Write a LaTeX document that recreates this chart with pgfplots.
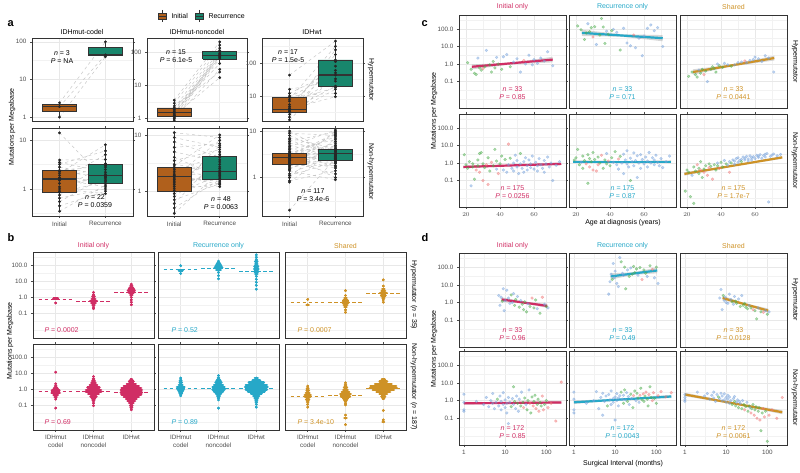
\documentclass[border=0pt]{standalone}
\usepackage{pgfplots}
\pgfplotsset{compat=1.18}
\usepackage{pgfplotstable}
\usepackage{fontspec}
\setmainfont{Liberation Sans}

\definecolor{cIo}{RGB}{208,45,100}
\definecolor{cRo}{RGB}{38,168,200}
\definecolor{cSh}{RGB}{206,146,38}
\definecolor{bxI}{RGB}{176,96,28}
\definecolor{bxR}{RGB}{24,134,108}
\definecolor{ptB}{RGB}{118,162,220}
\definecolor{ptG}{RGB}{76,172,76}
\definecolor{ptR}{RGB}{240,118,118}

\newcommand\fa{\fontsize{6.3}{7.2}\selectfont}
\newcommand\fb{\fontsize{7}{8}\selectfont}
\newcommand\fl{\fontsize{11}{12}\selectfont\bfseries}

% ---------- panel a: paired samples (x=1 initial, x=2 recurrence) ----------
\pgfplotstableread[row sep=\\]{x y\\
1 1.0\\2 40\\nan nan\\ 1 1.9\\2 45\\nan nan\\ 1 2.4\\2 100\\}\tA
\pgfplotstableread[row sep=\\]{x y\\
1 0.9\\2 78\\nan nan\\ 1 1.0\\2 30\\nan nan\\ 1 1.1\\2 90\\nan nan\\
1 1.2\\2 62\\nan nan\\ 1 1.25\\2 17\\nan nan\\ 1 1.3\\2 100\\nan nan\\
1 1.4\\2 72\\nan nan\\ 1 1.5\\2 85\\nan nan\\ 1 1.6\\2 45\\nan nan\\
1 1.7\\2 110\\nan nan\\ 1 1.9\\2 68\\nan nan\\ 1 2.1\\2 130\\nan nan\\
1 2.4\\2 25\\nan nan\\ 1 2.9\\2 160\\nan nan\\ 1 3.6\\2 200\\}\tB
\pgfplotstableread[row sep=\\]{x y\\
1 1.9\\2 43\\nan nan\\ 1 2.3\\2 123\\nan nan\\ 1 2.8\\2 16\\nan nan\\
1 3.3\\2 250\\nan nan\\ 1 3.5\\2 20\\nan nan\\ 1 3.8\\2 80\\nan nan\\
1 4.0\\2 9.5\\nan nan\\ 1 4.3\\2 180\\nan nan\\ 1 4.8\\2 33\\nan nan\\
1 5.5\\2 110\\nan nan\\ 1 7\\2 18\\nan nan\\ 1 8\\2 320\\nan nan\\
1 9.3\\2 50\\nan nan\\ 1 10\\2 12\\nan nan\\ 1 12\\2 60\\nan nan\\
1 16\\2 28\\nan nan\\ 1 43\\2 460\\}\tC
\pgfplotstableread[row sep=\\]{x y\\
1 0.35\\2 1.2\\nan nan\\ 1 0.45\\2 0.9\\nan nan\\ 1 0.55\\2 1.8\\nan nan\\
1 0.65\\2 1.0\\nan nan\\ 1 0.75\\2 2.5\\nan nan\\ 1 0.85\\2 1.4\\nan nan\\
1 0.9\\2 3.3\\nan nan\\ 1 1.0\\2 0.8\\nan nan\\ 1 1.1\\2 2.0\\nan nan\\
1 1.3\\2 1.6\\nan nan\\ 1 1.5\\2 5.0\\nan nan\\ 1 1.6\\2 1.1\\nan nan\\
1 1.7\\2 2.8\\nan nan\\ 1 1.9\\2 1.3\\nan nan\\ 1 2.1\\2 8.0\\nan nan\\
1 2.3\\2 1.7\\nan nan\\ 1 2.4\\2 3.0\\nan nan\\ 1 2.8\\2 1.9\\nan nan\\
1 3.2\\2 6.0\\nan nan\\ 1 3.5\\2 2.2\\nan nan\\ 1 3.9\\2 4.0\\nan nan\\
1 14\\2 1.5\\}\tD
\pgfplotstableread[row sep=\\]{x y\\
1 0.4\\2 2.2\\nan nan\\ 1 0.5\\2 1.6\\nan nan\\ 1 0.6\\2 4.2\\nan nan\\
1 0.7\\2 1.35\\nan nan\\ 1 0.8\\2 3.0\\nan nan\\ 1 0.9\\2 1.9\\nan nan\\
1 1.0\\2 6.5\\nan nan\\ 1 1.0\\2 1.4\\nan nan\\ 1 1.1\\2 2.5\\nan nan\\
1 1.2\\2 1.2\\nan nan\\ 1 1.3\\2 5.0\\nan nan\\ 1 1.4\\2 2.0\\nan nan\\
1 1.5\\2 1.7\\nan nan\\ 1 1.6\\2 3.6\\nan nan\\ 1 1.7\\2 1.5\\nan nan\\
1 1.8\\2 8.0\\nan nan\\ 1 1.9\\2 2.1\\nan nan\\ 1 2.0\\2 1.3\\nan nan\\
1 2.2\\2 4.5\\nan nan\\ 1 2.4\\2 2.7\\nan nan\\ 1 2.6\\2 1.6\\nan nan\\
1 2.8\\2 10\\nan nan\\ 1 3.0\\2 2.3\\nan nan\\ 1 3.5\\2 5.5\\nan nan\\
1 4.0\\2 1.8\\nan nan\\ 1 5.0\\2 3.3\\nan nan\\ 1 6.0\\2 7.0\\nan nan\\
1 7.5\\2 4.0\\nan nan\\ 1 9.0\\2 6.0\\nan nan\\ 1 11\\2 9.0\\}\tE
\pgfplotstableread[row sep=\\]{x y\\
1 0.2\\2 2.6\\nan nan\\ 1 0.8\\2 4.0\\nan nan\\ 1 0.85\\2 1.4\\nan nan\\
1 1.0\\2 7.0\\nan nan\\ 1 1.1\\2 2.2\\nan nan\\ 1 1.2\\2 3.2\\nan nan\\
1 1.4\\2 0.9\\nan nan\\ 1 1.5\\2 5.0\\nan nan\\ 1 1.6\\2 2.8\\nan nan\\
1 1.7\\2 10\\nan nan\\ 1 1.8\\2 1.8\\nan nan\\ 1 1.9\\2 3.6\\nan nan\\
1 2.0\\2 2.4\\nan nan\\ 1 2.1\\2 6.0\\nan nan\\ 1 2.2\\2 1.2\\nan nan\\
1 2.3\\2 4.5\\nan nan\\ 1 2.4\\2 2.0\\nan nan\\ 1 2.5\\2 8.5\\nan nan\\
1 2.6\\2 3.0\\nan nan\\ 1 2.6\\2 1.6\\nan nan\\ 1 2.7\\2 5.5\\nan nan\\
1 2.8\\2 2.5\\nan nan\\ 1 2.9\\2 9.0\\nan nan\\ 1 3.0\\2 1.0\\nan nan\\
1 3.1\\2 3.4\\nan nan\\ 1 3.2\\2 7.5\\nan nan\\ 1 3.3\\2 2.1\\nan nan\\
1 3.5\\2 4.8\\nan nan\\ 1 3.7\\2 1.7\\nan nan\\ 1 4.0\\2 6.5\\nan nan\\
1 4.3\\2 2.3\\nan nan\\ 1 4.6\\2 10.5\\nan nan\\ 1 5.0\\2 2.7\\nan nan\\
1 5.5\\2 3.8\\nan nan\\ 1 6.0\\2 9.5\\nan nan\\ 1 6.5\\2 2.6\\nan nan\\
1 7.0\\2 4.2\\nan nan\\ 1 8.0\\2 3.1\\nan nan\\ 1 9.0\\2 8.0\\nan nan\\
1 10\\2 2.9\\}\tF

% ---------- panel b: swarm rows (category, value, half width) ----------
\pgfplotstableread[row sep=\\]{c y w\\
1 0.85 0.06\\1 0.45 0\\
2 2.0 0\\2 1.5 0\\2 1.1 0.03\\2 0.8 0.05\\2 0.6 0.09\\2 0.45 0.06\\2 0.33 0.03\\2 0.25 0\\2 0.2 0\\
3 6.5 0\\3 5 0.03\\3 3.6 0.06\\3 2.6 0.09\\3 1.9 0.06\\3 1.4 0.03\\3 1.0 0\\3 0.7 0\\3 0.5 0\\3 0.35 0\\}\bHi
\pgfplotstableread[row sep=\\]{c y w\\
1 90 0\\1 45 0.05\\1 30 0\\
2 170 0\\2 125 0.04\\2 95 0.07\\2 70 0.1\\2 50 0.06\\2 35 0\\2 22 0\\2 14 0\\
3 420 0\\3 300 0\\3 220 0\\3 160 0.03\\3 115 0.03\\3 80 0.05\\3 57 0.06\\3 40 0.05\\3 28 0.03\\
3 20 0\\3 13 0\\3 8.5 0\\3 5.5 0\\3 3.2 0\\}\bHr
\pgfplotstableread[row sep=\\]{c y w\\
1 0.75 0\\1 0.35 0.03\\
2 2.6 0\\2 1.3 0\\2 0.9 0.03\\2 0.65 0.06\\2 0.48 0.08\\2 0.35 0.05\\2 0.25 0.03\\2 0.17 0\\2 0.12 0\\
3 12 0\\3 5 0\\3 3.3 0.03\\3 2.4 0.05\\3 1.8 0.09\\3 1.3 0.06\\3 0.95 0.03\\3 0.7 0\\3 0.5 0\\}\bHs
\pgfplotstableread[row sep=\\]{c y w\\
1 11.5 0\\1 2.2 0\\1 1.6 0.02\\1 1.15 0.05\\1 0.85 0.1\\1 0.62 0.11\\1 0.45 0.06\\1 0.33 0.03\\1 0.25 0\\1 0.07 0\\
2 6.2 0\\2 4.5 0.02\\2 3.3 0.04\\2 2.4 0.06\\2 1.8 0.1\\2 1.3 0.16\\2 0.95 0.2\\2 0.7 0.2\\2 0.5 0.14\\
2 0.37 0.08\\2 0.27 0.04\\2 0.2 0.02\\2 0.14 0\\2 0.1 0\\
3 4.0 0.02\\3 3.0 0.06\\3 2.2 0.12\\3 1.6 0.2\\3 1.2 0.26\\3 0.88 0.28\\3 0.65 0.28\\3 0.48 0.26\\
3 0.35 0.2\\3 0.26 0.14\\3 0.19 0.1\\3 0.14 0.06\\3 0.1 0.03\\3 0.075 0.02\\3 0.055 0\\}\bNi
\pgfplotstableread[row sep=\\]{c y w\\
1 5 0\\1 3.6 0.02\\1 2.6 0.03\\1 1.9 0.05\\1 1.4 0.1\\1 1.0 0.08\\1 0.75 0.05\\1 0.55 0.03\\1 0.4 0\\
2 7 0\\2 5 0.02\\2 3.6 0.05\\2 2.6 0.08\\2 1.9 0.12\\2 1.4 0.16\\2 1.0 0.16\\2 0.75 0.12\\2 0.55 0.07\\
2 0.4 0.04\\2 0.3 0.02\\2 0.22 0\\2 0.07 0\\
3 5 0.04\\3 3.6 0.1\\3 2.6 0.2\\3 1.9 0.28\\3 1.4 0.3\\3 1.0 0.28\\3 0.75 0.22\\3 0.55 0.14\\
3 0.4 0.08\\3 0.3 0.05\\3 0.22 0.03\\3 0.16 0.02\\3 0.12 0\\3 0.08 0\\}\bNr
\pgfplotstableread[row sep=\\]{c y w\\
1 1.6 0\\1 1.15 0.02\\1 0.85 0.03\\1 0.62 0.05\\1 0.45 0.08\\1 0.33 0.07\\1 0.24 0.04\\1 0.17 0.02\\1 0.12 0\\1 0.08 0\\
2 2.5 0\\2 1.8 0.02\\2 1.3 0.04\\2 0.95 0.06\\2 0.7 0.1\\2 0.5 0.14\\2 0.37 0.12\\2 0.27 0.06\\2 0.2 0.03\\
2 0.14 0\\2 0.11 0\\2 0.026 0\\2 0.017 0.03\\2 0.0066 0\\
3 4 0.04\\3 3 0.1\\3 2.2 0.22\\3 1.6 0.34\\3 1.2 0.36\\3 0.9 0.28\\3 0.66 0.18\\3 0.5 0.1\\
3 0.37 0.05\\3 0.27 0.02\\3 0.05 0\\3 0.013 0\\3 0.01 0.02\\}\bNs

% ---------- panel c: age at diagnosis; columns x io ro sh; b=IDHwt, g=IDHmut-noncodel, r=IDHmut-codel ----------
\pgfplotstableread[row sep=\\]{x io ro sh\\
27 2.2 200 0.45\\32 6 13 0.1\\38 2.4 75 1.0\\42 2.6 95 1.1\\44 3.5 65 0.9\\48 1.3 110 0.9\\
50 2.0 16 1.2\\52 0.35 11 1.3\\55 1.0 8.5 1.2\\57 3.2 30 1.6\\59 0.9 3 1.8\\60 1.8 40 2.5\\
62 1.1 110 2.0\\64 2.2 170 1.4\\66 1.5 80 3.0\\68 5.0 120 2.2\\71 0.8 10 0.35\\}\cHb
\pgfplotstableread[row sep=\\]{x io ro sh\\
21 1.2 150 0.2\\23 0.5 90 0.35\\25 0.3 25 0.25\\26 0.25 60 0.18\\28 0.6 70 0.3\\29 0.45 120 0.5\\
31 0.7 135 0.4\\34 0.9 45 0.5\\35 0.35 400 0.7\\36 1.4 130 0.55\\37 0.6 15 0.35\\39 1.0 50 0.8\\
41 0.5 80 0.65\\46 0.7 6.3 0.75\\}\cHg
\pgfplotstableread[row sep=\\]{x io ro sh\\
30 0.55 35 0.25\\54 1.6 45 1.5\\}\cHr
\pgfplotstableread[row sep=\\]{x io ro sh\\
23 0.05 1.1 0.2\\38 0.45 3.5 1.0\\42 0.4 1.1 1.4\\44 0.3 0.8 0.75\\45 0.8 0.45 1.2\\47 0.5 1.0 1.5\\
48 1.0 0.25 0.85\\48 0.35 3.2 1.3\\49 2.8 1.5 1.8\\50 0.6 0.9 1.1\\50 1.4 5.0 2.0\\51 0.25 0.6 1.4\\
52 0.9 1.9 1.6\\53 0.5 1.2 2.2\\54 1.2 3.8 1.5\\54 0.3 0.7 1.9\\55 2.0 1.4 2.4\\56 0.7 0.15 1.3\\
56 0.4 2.6 1.7\\57 1.5 1.0 2.6\\58 0.9 0.5 2.0\\58 0.55 3.0 1.5\\59 2.5 1.6 2.3\\60 0.45 0.9 1.8\\
61 1.1 2.2 2.8\\62 0.7 1.3 2.1\\62 0.35 0.6 2.5\\63 1.8 4.0 3.0\\64 0.8 1.0 1.9\\65 0.5 2.0 2.7\\
66 1.4 0.8 3.2\\66 0.3 1.5 2.2\\67 0.9 2.8 3.5\\68 2.2 1.1 0.006\\69 0.6 0.7 2.4\\70 1.0 1.8 2.9\\
71 0.1 0.55 3.3\\73 0.75 1.2 2.6\\75 1.2 2.5 3.1\\}\cNb
\pgfplotstableread[row sep=\\]{x io ro sh\\
19 3.0 1.5 0.025\\20 0.8 2.0 0.4\\21 0.5 6.0 0.3\\22 1.2 0.8 0.012\\24 0.9 0.5 0.005\\24 0.6 2.5 0.6\\
25 0.12 1.4 0.35\\27 1.5 0.07 0.25\\27 0.7 3.0 0.5\\28 3.5 1.8 1.2\\29 4.0 1.2 0.15\\30 0.9 4.0 0.45\\
31 0.55 1.6 0.7\\33 2.0 2.2 0.9\\34 0.35 1.0 0.65\\36 0.7 0.5 0.8\\37 6.0 1.5 0.4\\38 1.3 0.9 0.7\\
40 0.9 0.7 1.1\\41 2.5 2.0 0.6\\43 1.6 4.5 0.9\\46 1.9 2.4 1.0\\52 3.5 0.1 1.2\\}\cNg
\pgfplotstableread[row sep=\\]{x io ro sh\\
26 0.4 0.9 0.8\\28 0.3 0.6 0.4\\30 0.1 0.4 0.3\\32 0.8 0.35 0.2\\33 0.06 0.8 0.55\\35 1.1 2.8 0.12\\
39 0.25 1.3 0.5\\45 12 1.7 0.3\\}\cNr

% ---------- panel d: surgical interval (months); same columns ----------
\pgfplotstableread[row sep=\\]{x io ro sh\\
7 2.5 3.0 1.8\\7.5 0.7 15 5.5\\8 2.0 40 0.4\\9 6.0 160 1.3\\9.5 0.35 25 2.0\\10 1.3 60 1.0\\
11 5.0 12 0.9\\12 1.8 8 3.0\\13 0.9 350 1.5\\15 1.0 45 0.8\\16 3.2 35 2.2\\20 2.2 70 1.6\\
24 1.3 90 2.5\\36 0.85 35 0.7\\60 0.45 30 0.5\\90 0.8 25 0.35\\110 0.5 12 0.3\\}\dHb
\pgfplotstableread[row sep=\\]{x io ro sh\\
8.5 1.2 20 2.5\\14 2.7 200 1.1\\17 0.7 100 1.2\\18 1.5 6 0.9\\22 0.55 30 0.6\\26 0.8 40 0.7\\
28 0.4 110 0.9\\30 1.1 50 0.55\\33 0.3 80 0.45\\40 0.6 95 0.5\\50 0.5 70 0.35\\55 1.4 45 0.12\\
70 0.25 120 0.3\\100 0.6 100 0.22\\}\dHg
\pgfplotstableread[row sep=\\]{x io ro sh\\
45 1.8 20 0.4\\80 2.0 75 0.28\\}\dHr
\pgfplotstableread[row sep=\\]{x io ro sh\\
1 2.3 3.0 2.2\\1 0.25 0.3 0.9\\1 0.3 1.2 1.5\\1 0.8 0.2 1.1\\2 0.9 0.7 3.0\\3 0.6 1.0 1.8\\
3.5 1.5 3.2 2.5\\4 0.45 0.35 1.2\\4.5 1.0 1.5 2.0\\5 0.7 0.15 1.4\\5 2.5 2.6 3.0\\5.5 0.35 0.9 0.9\\
6 0.8 1.8 2.2\\7 0.5 2.2 1.3\\7.5 1.8 1.1 2.6\\8 0.3 0.6 1.0\\8 0.9 3.5 1.8\\9 0.6 1.3 1.1\\
9 2.8 0.8 2.4\\10 0.4 1.6 0.8\\10 1.1 0.08 1.5\\11 0.7 2.5 1.2\\11 0.2 1.0 2.0\\12 0.05 1.4 0.7\\
12 1.5 0.5 1.6\\13 0.8 1.9 1.0\\15 1.3 1.2 1.3\\16 0.6 2.0 1.7\\18 0.35 1.1 0.8\\19 1.8 2.8 1.1\\
21 0.25 1.7 0.9\\22 1.2 0.6 0.7\\25 3.0 1.3 1.0\\32 0.6 1.0 0.8\\38 4.0 0.8 0.4\\}\dNb
\pgfplotstableread[row sep=\\]{x io ro sh\\
6.5 1.2 0.5 1.6\\14 0.45 3.0 0.6\\16 6.0 0.7 0.9\\17 0.9 4.0 0.5\\20 0.7 0.9 0.4\\24 0.5 2.3 0.35\\
27 0.8 0.4 0.6\\30 1.4 3.5 0.45\\34 0.3 2.6 0.25\\36 1.0 1.4 0.5\\42 0.2 5.0 0.35\\45 1.6 1.1 0.6\\
50 0.9 0.9 0.3\\53 2.0 1.8 0.45\\60 0.6 1.2 0.25\\63 1.2 0.5 0.4\\70 0.8 6.0 0.02\\75 0.5 1.5 0.2\\
90 0.6 1.3 0.25\\100 1.0 0.7 0.005\\}\dNg
\pgfplotstableread[row sep=\\]{x io ro sh\\
28 0.4 1.9 0.3\\40 0.7 2.0 0.2\\48 0.5 2.4 0.15\\56 0.35 3.0 0.1\\66 0.25 2.2 0.08\\80 1.8 1.0 0.35\\
85 0.3 2.8 0.12\\110 0.4 1.9 0.15\\130 0.7 3.2 0.3\\170 0.07 1.6 0.1\\230 11 2.8 1.5\\}\dNr

\pgfplotsset{
  gg/.style={scale only axis, anchor=north west, clip=true,
    axis line style={draw=black!80, line width=0.7pt},
    tick align=outside, major tick length=2pt, minor tick length=0pt,
    tick style={draw=black!70, line width=0.5pt},
    grid=both, major grid style={draw=black!9, line width=0.55pt},
    minor grid style={draw=black!5, line width=0.35pt},
    ticklabel style={font=\fa, text=black!70}},
  noxt/.style={xticklabels={}, xmajorticks=false},
  noyt/.style={yticklabels={}, ymajorticks=false},
  pa/.style={xmin=0.4, xmax=2.6, xtick={1,2}, xticklabels={Initial,Recurrence}},
  lgy/.style={ymin=0.0031, ymax=630, ytick={0.1,1,10,100},
    yticklabels={0.1,1.0,10.0,100.0}, minor ytick={0.01,0.0316,0.316,3.16,31.6,316}},
  bx/.style={width=121pt, height=86pt, xmin=0.4, xmax=3.6, xtick={1,2,3},
    xticklabels={{IDHmut\\codel},{IDHmut\\noncodel},IDHwt}, xticklabel style={align=center}},
  cx/.style={width=107pt, height=93pt, xmin=15.9, xmax=78.8, xtick={20,40,60}, minor xtick={30,50,70}},
  dx/.style={width=107pt, height=94pt, xmin=0.76, xmax=300, xtick={1,10,100},
    xticklabels={1,10,100}, minor xtick={3.16,31.6}},
  sw/.style={only marks, mark=*, mark size=1.2pt, color=#1, mark options={draw=none, fill=#1},
    error bars/x dir=both, error bars/x explicit, error bars/error mark=none,
    error bars/error bar style={line width=2.4pt, line cap=round, color=#1}},
  md/.style={color=#1, dash pattern=on 3.5pt off 2.5pt, line width=0.8pt},
  pts/.style={only marks, mark=*, mark size=1.4pt, color=#1,
    mark options={draw=#1, fill=#1, opacity=0.45}},
  band/.style={fill=black!35, fill opacity=0.45, draw=none},
  rl/.style={color=#1, line width=2.2pt},
}

\newcommand\aLn[1]{\addplot[black!22, dashed, line width=0.5pt, unbounded coords=jump] table {#1};}
\newcommand\aPt[1]{\addplot[only marks, mark=*, mark size=1.2pt, black!85] table {#1};}
% box: left, right, centre, fill, lower whisker, lower quartile, median, upper quartile, upper whisker
\newcommand\aBx[9]{%
  \addplot[black!80, line width=0.6pt] coordinates {(#3,#5) (#3,#6)};
  \addplot[black!80, line width=0.6pt] coordinates {(#3,#8) (#3,#9)};
  \addplot[draw=black!80, fill=#4, line width=0.6pt] coordinates {(#1,#6) (#2,#6) (#2,#8) (#1,#8) (#1,#6)};
  \addplot[black!80, line width=1.2pt] coordinates {(#1,#7) (#2,#7)};}
% points coloured by subtype: blue, green, red tables, y column
\newcommand\scat[4]{%
  \addplot[pts=ptB] table[x=x, y=#4] {#1};
  \addplot[pts=ptG] table[x=x, y=#4] {#2};
  \addplot[pts=ptR] table[x=x, y=#4] {#3};}

\begin{document}
\begin{tikzpicture}
\path[use as bounding box] (0pt,0pt) rectangle (800pt,-473pt);

% ================= panel a =================
\node[font=\fl, anchor=base west] at (4pt,-27pt) {a};
\draw[black!80, line width=0.5pt] (162pt,-10pt) -- (162pt,-22pt);
\filldraw[fill=bxI, draw=black!80, line width=0.5pt] (158pt,-13pt) rectangle (166pt,-19pt);
\draw[black!80, line width=0.9pt] (158pt,-16pt) -- (166pt,-16pt);
\node[font=\fb, anchor=west] at (168pt,-16pt) {Initial};
\draw[black!80, line width=0.5pt] (199pt,-10pt) -- (199pt,-22pt);
\filldraw[fill=bxR, draw=black!80, line width=0.5pt] (195pt,-13pt) rectangle (203pt,-19pt);
\draw[black!80, line width=0.9pt] (195pt,-16pt) -- (203pt,-16pt);
\node[font=\fb, anchor=west] at (205pt,-16pt) {Recurrence};

\node[font=\fb] at (82pt,-32pt) {IDHmut-codel};
\node[font=\fb] at (197pt,-32pt) {IDHmut-noncodel};
\node[font=\fb] at (312pt,-32pt) {IDHwt};
\node[font=\fb, rotate=-90] at (371pt,-80pt) {Hypermutator};
\node[font=\fb, rotate=-90] at (371pt,-172pt) {Non-hypermutator};
\node[font=\fb, rotate=90] at (12pt,-127pt) {Mutations per Megabase};

\begin{axis}[ymode=log, gg, pa, noxt, at={(32pt,-38pt)}, width=101pt, height=83pt,
  ymin=0.79, ymax=126, ytick={1,10,100}, yticklabels={1,10,100}, minor ytick={0.316,3.16,31.6}]
\aLn\tA
\aBx{0.625}{1.375}{1}{bxI}{1.0}{1.45}{1.9}{2.15}{2.4}
\aBx{1.625}{2.375}{2}{bxR}{40}{42.5}{45}{72.5}{100}
\aPt\tA
\end{axis}
\begin{axis}[ymode=log, gg, pa, noxt, at={(147pt,-38pt)}, width=100pt, height=83pt,
  ymin=0.85, ymax=262, ytick={1,10,100}, yticklabels={1,10,100}, minor ytick={0.316,3.16,31.6}]
\aLn\tB
\aBx{0.625}{1.375}{1}{bxI}{0.9}{1.2}{1.5}{2.1}{3.6}
\aBx{1.625}{2.375}{2}{bxR}{45}{62}{80}{105}{200}
\aPt\tB
\end{axis}
\begin{axis}[ymode=log, gg, pa, noxt, at={(262pt,-38pt)}, width=101pt, height=83pt,
  ymin=1.75, ymax=570, ytick={10,100}, yticklabels={10,100}, minor ytick={3.16,31.6,316}]
\aLn\tC
\aBx{0.625}{1.375}{1}{bxI}{1.9}{3.3}{4.0}{9.3}{16}
\aBx{1.625}{2.375}{2}{bxR}{9.5}{20}{43}{123}{460}
\aPt\tC
\end{axis}
\begin{axis}[ymode=log, gg, pa, at={(32pt,-128pt)}, width=101pt, height=88pt,
  ymin=0.28, ymax=17.6, ytick={1,10}, yticklabels={1,10}, minor ytick={0.316,3.16}]
\aLn\tD
\aBx{0.625}{1.375}{1}{bxI}{0.35}{0.87}{1.6}{2.35}{3.9}
\aBx{1.625}{2.375}{2}{bxR}{0.8}{1.3}{1.9}{3.2}{8}
\aPt\tD
\end{axis}
\begin{axis}[ymode=log, gg, pa, at={(147pt,-128pt)}, width=100pt, height=88pt,
  ymin=0.36, ymax=13.3, ytick={1,10}, yticklabels={1,10}, minor ytick={0.316,3.16}]
\aLn\tE
\aBx{0.625}{1.375}{1}{bxI}{0.4}{1.0}{1.8}{2.6}{11}
\aBx{1.625}{2.375}{2}{bxR}{1.2}{1.6}{2.2}{4.2}{10}
\aPt\tE
\end{axis}
\begin{axis}[ymode=log, gg, pa, at={(262pt,-128pt)}, width=101pt, height=88pt,
  ymin=0.15, ymax=11.6, ytick={1,10}, yticklabels={1,10}, minor ytick={0.316,3.16}]
\aLn\tF
\aBx{0.625}{1.375}{1}{bxI}{0.8}{1.9}{2.7}{3.3}{10}
\aBx{1.625}{2.375}{2}{bxR}{0.9}{2.3}{3.3}{4.1}{10.5}
\aPt\tF
\end{axis}

\node[font=\fb, align=center] at (62pt,-57pt) {\textit{n} = 3\\\textit{P} = NA};
\node[font=\fb, align=center] at (176pt,-56pt) {\textit{n} = 15\\\textit{P} = 6.1e-5};
\node[font=\fb, align=center] at (288pt,-56pt) {\textit{n} = 17\\\textit{P} = 1.5e-5};
\node[font=\fb, align=center] at (95pt,-201pt) {\textit{n} = 22\\\textit{P} = 0.0359};
\node[font=\fb, align=center] at (221pt,-203pt) {\textit{n} = 48\\\textit{P} = 0.0063};
\node[font=\fb, align=center] at (313pt,-195pt) {\textit{n} = 117\\\textit{P} = 3.4e-6};

% ================= panel b =================
\node[font=\fl, anchor=base west] at (4pt,-241pt) {b};
\node[font=\fb, text=cIo] at (93.5pt,-246pt) {Initial only};
\node[font=\fb, text=cRo] at (218.5pt,-246pt) {Recurrence only};
\node[font=\fb, text=cSh] at (345.5pt,-246pt) {Shared};
\node[font=\fb, rotate=-90] at (414pt,-295pt) {Hypermutator (\textit{n} = 35)};
\node[font=\fb, rotate=-90] at (414pt,-387pt) {Non-hypermutator (\textit{n} = 187)};
\node[font=\fb, rotate=90] at (10pt,-341pt) {Mutations per Megabase};

\begin{axis}[ymode=log, gg, bx, lgy, noxt, at={(33pt,-252pt)}]
\addplot[sw=cIo] table[x=c, y=y, x error=w] {\bHi};
\addplot[md=cIo] coordinates {(0.55,0.7) (1.45,0.7)};
\addplot[md=cIo] coordinates {(1.55,0.6) (2.45,0.6)};
\addplot[md=cIo] coordinates {(2.55,1.9) (3.45,1.9)};
\end{axis}
\begin{axis}[ymode=log, gg, bx, lgy, noxt, noyt, at={(158pt,-252pt)}]
\addplot[sw=cRo] table[x=c, y=y, x error=w] {\bHr};
\addplot[md=cRo] coordinates {(0.55,50) (1.45,50)};
\addplot[md=cRo] coordinates {(1.55,60) (2.45,60)};
\addplot[md=cRo] coordinates {(2.55,38) (3.45,38)};
\end{axis}
\begin{axis}[ymode=log, gg, bx, lgy, noxt, noyt, at={(285pt,-252pt)}]
\addplot[sw=cSh] table[x=c, y=y, x error=w] {\bHs};
\addplot[md=cSh] coordinates {(0.55,0.49) (1.45,0.49)};
\addplot[md=cSh] coordinates {(1.55,0.5) (2.45,0.5)};
\addplot[md=cSh] coordinates {(2.55,1.75) (3.45,1.75)};
\end{axis}
\begin{axis}[ymode=log, gg, bx, lgy, at={(33pt,-344pt)}]
\addplot[sw=cIo] table[x=c, y=y, x error=w] {\bNi};
\addplot[md=cIo] coordinates {(0.55,0.72) (1.45,0.72)};
\addplot[md=cIo] coordinates {(1.55,0.75) (2.45,0.75)};
\addplot[md=cIo] coordinates {(2.55,0.65) (3.45,0.65)};
\end{axis}
\begin{axis}[ymode=log, gg, bx, lgy, noyt, at={(158pt,-344pt)}]
\addplot[sw=cRo] table[x=c, y=y, x error=w] {\bNr};
\addplot[md=cRo] coordinates {(0.55,1.2) (1.45,1.2)};
\addplot[md=cRo] coordinates {(1.55,1.2) (2.45,1.2)};
\addplot[md=cRo] coordinates {(2.55,1.2) (3.45,1.2)};
\end{axis}
\begin{axis}[ymode=log, gg, bx, lgy, noyt, at={(285pt,-344pt)}]
\addplot[sw=cSh] table[x=c, y=y, x error=w] {\bNs};
\addplot[md=cSh] coordinates {(0.55,0.35) (1.45,0.35)};
\addplot[md=cSh] coordinates {(1.55,0.42) (2.45,0.42)};
\addplot[md=cSh] coordinates {(2.55,1.1) (3.45,1.1)};
\end{axis}

\node[font=\fb, text=cIo, anchor=west] at (41pt,-330pt) {\textit{P} = 0.0002};
\node[font=\fb, text=cRo, anchor=west] at (168pt,-330pt) {\textit{P} = 0.52};
\node[font=\fb, text=cSh, anchor=west] at (294pt,-330pt) {\textit{P} = 0.0007};
\node[font=\fb, text=cIo, anchor=west] at (41pt,-422pt) {\textit{P} = 0.69};
\node[font=\fb, text=cRo, anchor=west] at (168pt,-422pt) {\textit{P} = 0.89};
\node[font=\fb, text=cSh, anchor=west] at (294pt,-422pt) {\textit{P} = 3.4e-10};

% ================= panel c =================
\node[font=\fl, anchor=base west] at (418pt,-27pt) {c};
\node[font=\fb, text=cIo] at (512.5pt,-7pt) {Initial only};
\node[font=\fb, text=cRo] at (622.5pt,-7pt) {Recurrence only};
\node[font=\fb, text=cSh] at (733.5pt,-7pt) {Shared};
\node[font=\fb, rotate=-90] at (795pt,-61.5pt) {Hypermutator};
\node[font=\fb, rotate=-90] at (795pt,-160.5pt) {Non-hypermutator};
\node[font=\fb, rotate=90] at (434pt,-111pt) {Mutations per Megabase};
\node[font=\fb] at (623pt,-223pt) {Age at diagnosis (years)};

\begin{axis}[ymode=log, gg, cx, lgy, noxt, at={(459pt,-15pt)}]
\scat\cHb\cHg\cHr{io}
\addplot[band] coordinates {(23.5,0.95) (47,1.2) (71,2.6) (71,1.25) (47,0.95) (23.5,0.5)};
\addplot[rl=cIo] coordinates {(23.5,0.7) (71,1.8)};
\end{axis}
\begin{axis}[ymode=log, gg, cx, lgy, noxt, noyt, at={(569pt,-15pt)}]
\scat\cHb\cHg\cHr{ro}
\addplot[band] coordinates {(23.5,90) (47,50) (71,45) (71,20) (47,36) (23.5,40)};
\addplot[rl=cRo] coordinates {(23.5,60) (71,30)};
\end{axis}
\begin{axis}[ymode=log, gg, cx, lgy, noxt, noyt, at={(680pt,-15pt)}]
\scat\cHb\cHg\cHr{sh}
\addplot[band] coordinates {(23.5,0.5) (47,0.95) (71.3,3.0) (71.3,1.6) (47,0.75) (23.5,0.25)};
\addplot[rl=cSh] coordinates {(23.5,0.35) (71.3,2.2)};
\end{axis}
\begin{axis}[ymode=log, gg, cx, lgy, at={(459pt,-114pt)}]
\scat\cNb\cNg\cNr{io}
\addplot[band] coordinates {(18.5,0.72) (47,0.8) (76,1.08) (76,0.75) (47,0.66) (18.5,0.5)};
\addplot[rl=cIo] coordinates {(18.5,0.6) (76,0.9)};
\end{axis}
\begin{axis}[ymode=log, gg, cx, lgy, noyt, at={(569pt,-114pt)}]
\scat\cNb\cNg\cNr{ro}
\addplot[band] coordinates {(18.5,1.45) (47,1.3) (76,1.45) (76,1.0) (47,1.1) (18.5,1.0)};
\addplot[rl=cRo] coordinates {(18.5,1.2) (76,1.2)};
\end{axis}
\begin{axis}[ymode=log, gg, cx, lgy, noyt, at={(680pt,-114pt)}]
\scat\cNb\cNg\cNr{sh}
\addplot[band] coordinates {(18.5,0.3) (47,0.74) (76,2.5) (76,1.75) (47,0.64) (18.5,0.19)};
\addplot[rl=cSh] coordinates {(18.5,0.24) (76,2.1)};
\end{axis}

\node[font=\fb, text=cIo, align=center] at (512.5pt,-93pt) {\textit{n} = 33\\\textit{P} = 0.85};
\node[font=\fb, text=cRo, align=center] at (622.5pt,-93pt) {\textit{n} = 33\\\textit{P} = 0.71};
\node[font=\fb, text=cSh, align=center] at (733.5pt,-93pt) {\textit{n} = 33\\\textit{P} = 0.0441};
\node[font=\fb, text=cIo, align=center] at (512.5pt,-192.5pt) {\textit{n} = 175\\\textit{P} = 0.0256};
\node[font=\fb, text=cRo, align=center] at (622.5pt,-192.5pt) {\textit{n} = 175\\\textit{P} = 0.87};
\node[font=\fb, text=cSh, align=center] at (733.5pt,-192.5pt) {\textit{n} = 175\\\textit{P} = 1.7e-7};

% ================= panel d =================
\node[font=\fl, anchor=base west] at (418pt,-241pt) {d};
\node[font=\fb, text=cIo] at (512.5pt,-246pt) {Initial only};
\node[font=\fb, text=cRo] at (622.5pt,-246pt) {Recurrence only};
\node[font=\fb, text=cSh] at (733.5pt,-246pt) {Shared};
\node[font=\fb, rotate=-90] at (795pt,-300pt) {Hypermutator};
\node[font=\fb, rotate=-90] at (795pt,-398pt) {Non-hypermutator};
\node[font=\fb, rotate=90] at (434pt,-349pt) {Mutations per Megabase};
\node[font=\fb] at (623pt,-464pt) {Surgical Interval (months)};

\begin{axis}[xmode=log, ymode=log, gg, dx, lgy, noxt, at={(459pt,-253pt)}]
\scat\dHb\dHg\dHr{io}
\addplot[band] coordinates {(8.2,2.0) (29.3,1.1) (105,0.85) (105,0.5) (29.3,0.88) (8.2,1.1)};
\addplot[rl=cIo] coordinates {(8.2,1.5) (105,0.65)};
\end{axis}
\begin{axis}[xmode=log, ymode=log, gg, dx, lgy, noxt, noyt, at={(569pt,-253pt)}]
\scat\dHb\dHg\dHr{ro}
\addplot[band] coordinates {(7.8,45) (28.6,52) (105,95) (105,45) (28.6,37) (7.8,20)};
\addplot[rl=cRo] coordinates {(7.8,30) (105,65)};
\end{axis}
\begin{axis}[xmode=log, ymode=log, gg, dx, lgy, noxt, noyt, at={(680pt,-253pt)}]
\scat\dHb\dHg\dHr{sh}
\addplot[band] coordinates {(8.2,2.4) (29.3,0.9) (105,0.46) (105,0.27) (29.3,0.7) (8.2,1.35)};
\addplot[rl=cSh] coordinates {(8.2,1.8) (105,0.35)};
\end{axis}
\begin{axis}[xmode=log, ymode=log, gg, dx, lgy, at={(459pt,-351pt)}]
\scat\dNb\dNg\dNr{io}
\addplot[band] coordinates {(1,0.85) (15,0.8) (230,0.95) (230,0.64) (15,0.68) (1,0.58)};
\addplot[rl=cIo] coordinates {(1,0.7) (230,0.78)};
\end{axis}
\begin{axis}[xmode=log, ymode=log, gg, dx, lgy, noyt, at={(569pt,-351pt)}]
\scat\dNb\dNg\dNr{ro}
\addplot[band] coordinates {(1,1.0) (15,1.28) (230,2.1) (230,1.4) (15,1.07) (1,0.64)};
\addplot[rl=cRo] coordinates {(1,0.8) (230,1.7)};
\end{axis}
\begin{axis}[xmode=log, ymode=log, gg, dx, lgy, noyt, at={(680pt,-351pt)}]
\scat\dNb\dNg\dNr{sh}
\addplot[band] coordinates {(1,2.8) (15,0.78) (230,0.29) (230,0.17) (15,0.63) (1,1.75)};
\addplot[rl=cSh] coordinates {(1,2.2) (230,0.22)};
\end{axis}

\node[font=\fb, text=cIo, align=center] at (512.5pt,-334pt) {\textit{n} = 33\\\textit{P} = 0.96};
\node[font=\fb, text=cRo, align=center] at (622.5pt,-334pt) {\textit{n} = 33\\\textit{P} = 0.49};
\node[font=\fb, text=cSh, align=center] at (733.5pt,-334pt) {\textit{n} = 33\\\textit{P} = 0.0128};
\node[font=\fb, text=cIo, align=center] at (512.5pt,-432.5pt) {\textit{n} = 172\\\textit{P} = 0.85};
\node[font=\fb, text=cRo, align=center] at (622.5pt,-432.5pt) {\textit{n} = 172\\\textit{P} = 0.0043};
\node[font=\fb, text=cSh, align=center] at (733.5pt,-432.5pt) {\textit{n} = 172\\\textit{P} = 0.0061};
\end{tikzpicture}
\end{document}
